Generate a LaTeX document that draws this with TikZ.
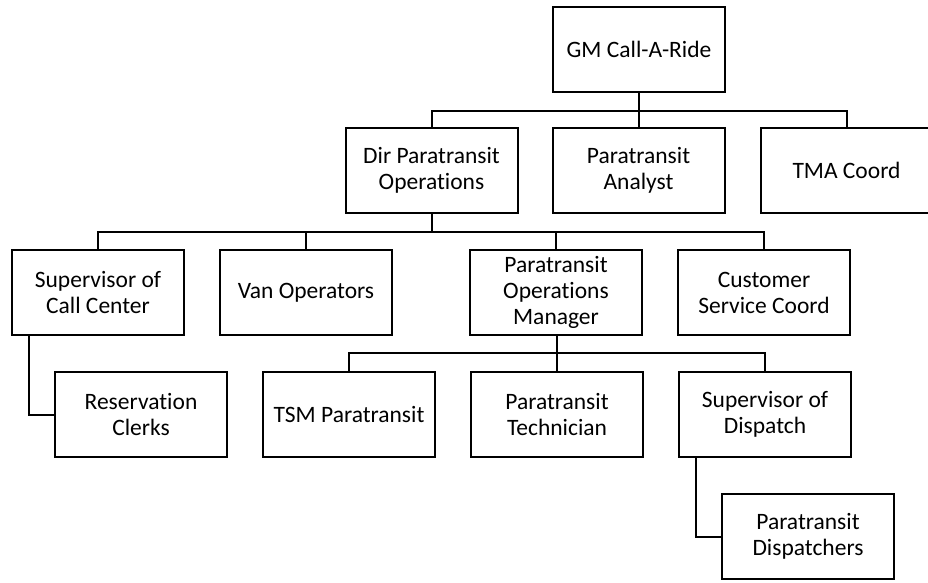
\documentclass[tikz,border=0pt]{standalone}
\usepackage{fontspec}
\setmainfont{Carlito}[Ligatures=NoCommon]
\usetikzlibrary{positioning}
\tikzset{
  orgbox/.style={rectangle, draw=black, line width=2pt, fill=white,
    minimum width=172pt, minimum height=85pt, outer sep=0pt, inner sep=1pt,
    align=center, font=\fontsize{23.5}{26}\selectfont},
  orgline/.style={line width=2pt, black}
}
\begin{document}
\begin{tikzpicture}[x=1pt, y=-1pt]
  \useasboundingbox (0,0) rectangle (928,582);
  \clip (0,0) rectangle (928,582);
  \fill[white] (0,0) rectangle (928,582);

  % top
  \node[orgbox] (gm) at (639,49) {GM Call-A-Ride};

  % second row
  \node[orgbox] (dir) at (431.5,170.5) {Dir Paratransit\\Operations};
  \node[orgbox, right=35pt of dir] (ana) {Paratransit\\Analyst};
  \node[orgbox, right=36pt of ana] (tma) {TMA Coord};

  % third row
  \node[orgbox] (scc) at (98,292.5) {Supervisor of\\Call Center};
  \node[orgbox, right=36pt of scc] (van) {Van Operators};
  \node[orgbox, right=78pt of van] (pom) {Paratransit\\Operations\\Manager};
  \node[orgbox, right=36pt of pom] (csc) {Customer\\Service Coord};

  % fourth row
  \node[orgbox] (res) at (141,414.5) {Reservation\\Clerks};
  \node[orgbox, right=36pt of res] (tsm) {TSM Paratransit};
  \node[orgbox, right=36pt of tsm] (tech) {Paratransit\\Technician};
  \node[orgbox, right=36pt of tech] (disp) {Supervisor of\\Dispatch};

  \node[orgbox] (dsp) at (808,536.5) {Paratransit\\Dispatchers};

  % connectors
  \foreach \c in {dir, ana, tma}
    \draw[orgline] (gm.south) -- ++(0,-19pt) -| (\c.north);
  \foreach \c in {scc, van, pom, csc}
    \draw[orgline] (dir.south) -- ++(0,-19pt) -| (\c.north);
  \foreach \c in {tsm, tech, disp}
    \draw[orgline] ([xshift=1pt]pom.south) -- ++(0,-18pt) -| (\c.north);
  \draw[orgline] ([xshift=17pt]scc.south west) |- (res.west);
  \draw[orgline] ([xshift=17pt]disp.south west) |- (dsp.west);
\end{tikzpicture}
\end{document}
